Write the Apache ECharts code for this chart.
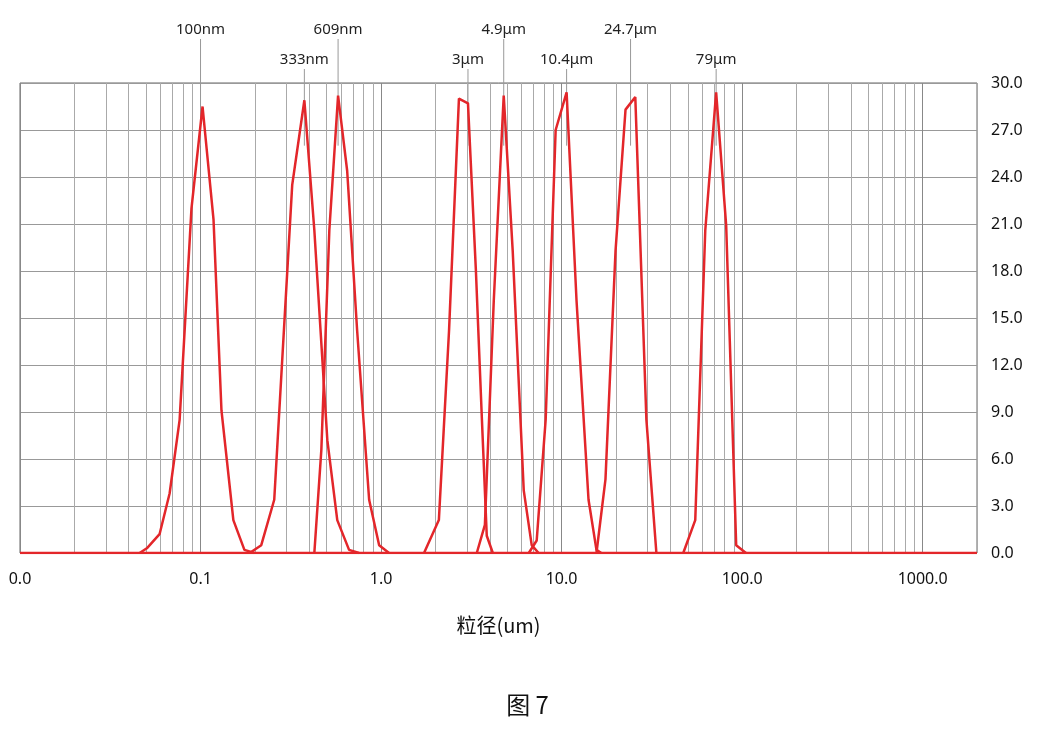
<!DOCTYPE html>
<html><head><meta charset="utf-8">
<script src="https://cdn.jsdelivr.net/npm/echarts@6/dist/echarts.min.js"></script>
<style>html,body{margin:0;padding:0;background:#fff}#c{width:1055px;height:736px}</style>
</head><body><div id="c"></div>
<script>
const peak100 = [[0.046,0],[0.0504,0.3],[0.0593,1.2],[0.0674,3.8],[0.0766,8.5],[0.0891,22],[0.1026,28.5],[0.118,21.3],[0.1306,9.1],[0.152,2.1],[0.175,0.2],[0.199,0]];
const peak333 = [[0.187,0],[0.217,0.5],[0.256,3.4],[0.322,23.5],[0.376,28.9],[0.427,20.6],[0.504,7.2],[0.572,2.1],[0.665,0.2],[0.755,0]];
const peak609 = [[0.427,0],[0.467,6.6],[0.517,20.6],[0.578,29.2],[0.649,24.4],[0.737,14.2],[0.859,3.4],[0.976,0.5],[1.107,0]];
const peak3 = [[1.73,0],[2.09,2.1],[2.38,14.2],[2.70,29.0],[3.03,28.7],[3.35,18.1],[3.62,8.5],[3.85,1.1],[4.16,0]];
const peak49 = [[3.39,0],[3.76,1.8],[4.21,16.1],[4.78,29.2],[5.36,19.3],[6.17,4.0],[6.83,0.5],[7.46,0]];
const peak104 = [[6.58,0],[7.28,0.8],[8.16,8.5],[9.27,27.0],[10.66,29.4],[12.1,16.1],[14.1,3.4],[15.6,0.2],[16.6,0]];
const peak247 = [[15.6,0],[17.5,4.7],[19.9,19.3],[22.6,28.3],[25.6,29.1],[29.5,8.5],[33.5,0]];
const peak79 = [[47.2,0],[55.0,2.1],[62.5,20.6],[71.8,29.4],[81.6,20.9],[92.7,0.5],[105,0]];
const peaks = [peak100,peak333,peak609,peak3,peak49,peak104,peak247,peak79];
const labelNames = ['100nm','333nm','609nm','3μm','4.9μm','10.4μm','24.7μm','79μm'];
const labelX = [0.1,0.376,0.578,3.03,4.78,10.66,24.1,71.8];
const labelRow = [0,1,0,1,0,1,0,1];
const minorX = [];
[0.01,0.1,1,10,100,1000].forEach(d=>{for(let m=2;m<=9;m++){const v=+(d*m).toPrecision(3); if(v<=2000) minorX.push(v);}});

const chart = echarts.init(document.getElementById('c'));
const red = '#e3262a';
const series = peaks.map(p=>({type:'line',data:p,symbol:'none',lineStyle:{color:red,width:2.5},z:5,silent:true}));
series.push({type:'line',data:[[0.01,0],[2000,0]],symbol:'none',lineStyle:{color:red,width:2.5},z:5,silent:true,
  markLine:{silent:true,symbol:'none',label:{show:false},lineStyle:{color:'#aaa',type:'solid',width:1},data:minorX.map(v=>({xAxis:v}))}});
series.push({type:'custom',clip:false,silent:true,z:3,
  data:labelX.map((x,i)=>[x,26,labelRow[i]]),
  renderItem:(params,api)=>{
    const i=params.dataIndex;
    const top=api.coord([api.value(0),30]);
    const low=api.coord([api.value(0),api.value(1)]);
    const y1 = top[1] - (api.value(2)===0 ? 44 : 14);
    return {type:'group',children:[
      {type:'line',shape:{x1:top[0],y1:y1,x2:low[0],y2:low[1]},style:{stroke:'#999',lineWidth:1}},
      {type:'text',x:top[0],y:y1-2,style:{text:labelNames[i],fill:'#222',font:'15px "Noto Sans"',align:'center',verticalAlign:'bottom'}}
    ]};
  }});

chart.setOption({
  animation:false,
  grid:{left:20,right:78,top:83,bottom:183,show:true,borderColor:'#666',borderWidth:1},
  title:{text:'图 7',left:'center',top:688,textStyle:{fontSize:24,fontWeight:'normal',color:'#111',fontFamily:'Noto Sans CJK SC'}},
  xAxis:{type:'log',min:0.01,max:2000,logBase:10,
    name:'粒径(um)',nameLocation:'middle',nameGap:62,nameTextStyle:{fontSize:20,color:'#111',fontFamily:'Noto Sans CJK SC'},
    axisLine:{show:false},axisTick:{show:false},
    axisLabel:{fontSize:16,color:'#111',margin:18,fontFamily:'Noto Sans',formatter:v=>(+v>1500?'':(+v).toFixed(1))},
    splitLine:{show:true,lineStyle:{color:'#888',width:1}}},
  yAxis:{type:'value',position:'right',min:0,max:30,interval:3,
    axisLine:{show:false},axisTick:{show:false},
    axisLabel:{fontSize:16,color:'#111',margin:14,fontFamily:'Noto Sans',formatter:v=>v.toFixed(1)},
    splitLine:{show:true,lineStyle:{color:'#999',width:1}}},
  series
});
</script></body></html>
